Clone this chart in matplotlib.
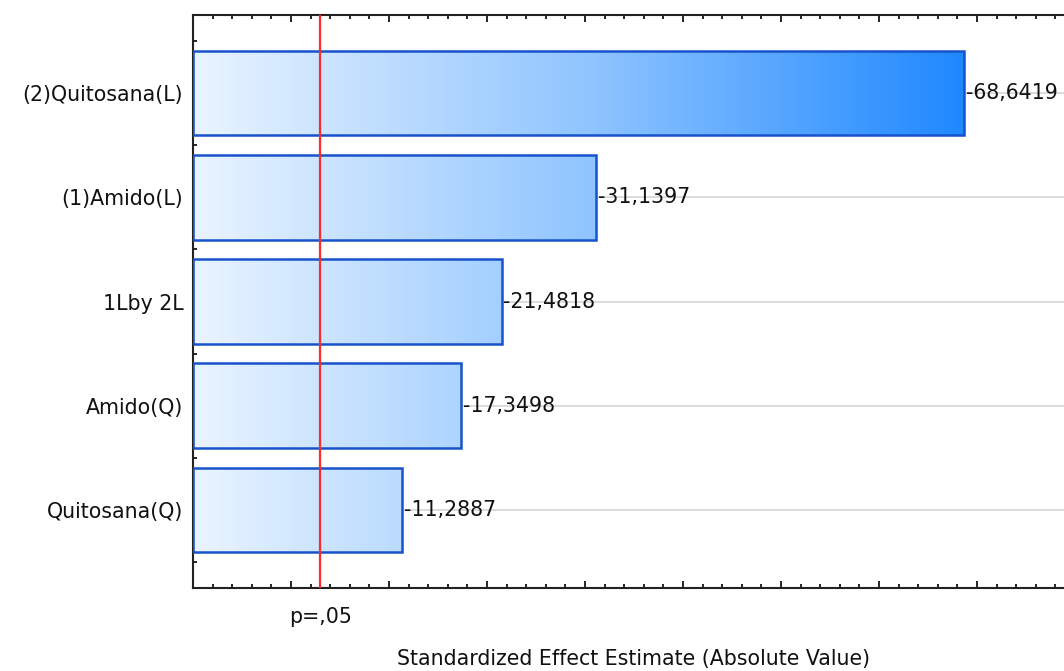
import numpy as np
import matplotlib
matplotlib.use('Agg')
import matplotlib.pyplot as plt
import matplotlib.transforms as mtransforms
from matplotlib.colors import LinearSegmentedColormap
from matplotlib.ticker import MultipleLocator

# Pareto chart of standardized effects
factors = ['(2)Quitosana(L)', '(1)Amido(L)', '1Lby 2L', 'Amido(Q)', 'Quitosana(Q)']
effects = [-68.6419, -31.1397, -21.4818, -17.3498, -11.2887]
t_crit = 3.0            # p = .05
x_min, x_max = -10, 80

plt.rcParams['font.family'] = ['DejaVu Sans']
FS = 14.8

fig = plt.figure(figsize=(10.64, 6.71), dpi=100)
W, H = 1064, 671
ax = fig.add_axes([193 / W, 83 / H, (1075 - 193) / W, (588 - 15) / H])

ypos = np.arange(len(factors))
abs_eff = np.abs(effects)

# grid lines run behind the bars
ax.hlines(ypos, x_min, x_max, color='#d6d6d6', lw=1.2, zorder=1)

bars = ax.barh(ypos, abs_eff - x_min, left=x_min, height=0.81,
               facecolor='none', edgecolor='#1752cc', lw=1.8, zorder=3)

# one horizontal gradient shared by all bars, clipped to each rectangle
cmap = LinearSegmentedColormap.from_list(
    'fade', [(0.0, '#eaf4ff'), (0.52, '#8ec4ff'), (1.0, '#1f88ff')])
grad = np.linspace(0, 1, 512).reshape(1, -1)
for b in bars:
    im = ax.imshow(grad, cmap=cmap, aspect='auto', interpolation='bilinear',
                   extent=(x_min, abs_eff.max(), 4.75, -0.75), zorder=2)
    im.set_clip_path(b)

for y, v, e in zip(ypos, abs_eff, effects):
    ax.text(v + 0.2, y, f'{e:.4f}'.replace('.', ','), va='center', ha='left',
            fontsize=FS, color='#111111', zorder=5)

ax.axvline(t_crit, color='#ff2a2a', lw=1.6, zorder=4)

ax.set_xlim(x_min, x_max)
ax.set_ylim(4.75, -0.75)

ax.set_yticks(ypos, factors, fontsize=FS, color='#111111')
ax.yaxis.set_minor_locator(MultipleLocator(0.25))
ax.tick_params(axis='y', which='both', direction='in', length=3, width=1.2,
               pad=7, right=False)

ax.xaxis.set_major_locator(MultipleLocator(10))
ax.xaxis.set_minor_locator(MultipleLocator(2))
ax.tick_params(axis='x', which='major', direction='in', length=5, width=1.2,
               top=True, labelbottom=False)
ax.tick_params(axis='x', which='minor', direction='in', length=3, width=1.2,
               top=True)

for s in ax.spines.values():
    s.set_linewidth(1.5)
    s.set_color('#222222')

trans = mtransforms.blended_transform_factory(ax.transData, ax.transAxes)
ax.text(t_crit, -29 / 573, 'p=,05', transform=trans, ha='center', va='center',
        fontsize=FS, color='#111111')

fig.text(634 / W, 1 - 659 / H, 'Standardized Effect Estimate (Absolute Value)',
         ha='center', va='center', fontsize=FS, color='#111111')

fig.savefig('out.png', dpi=100)
